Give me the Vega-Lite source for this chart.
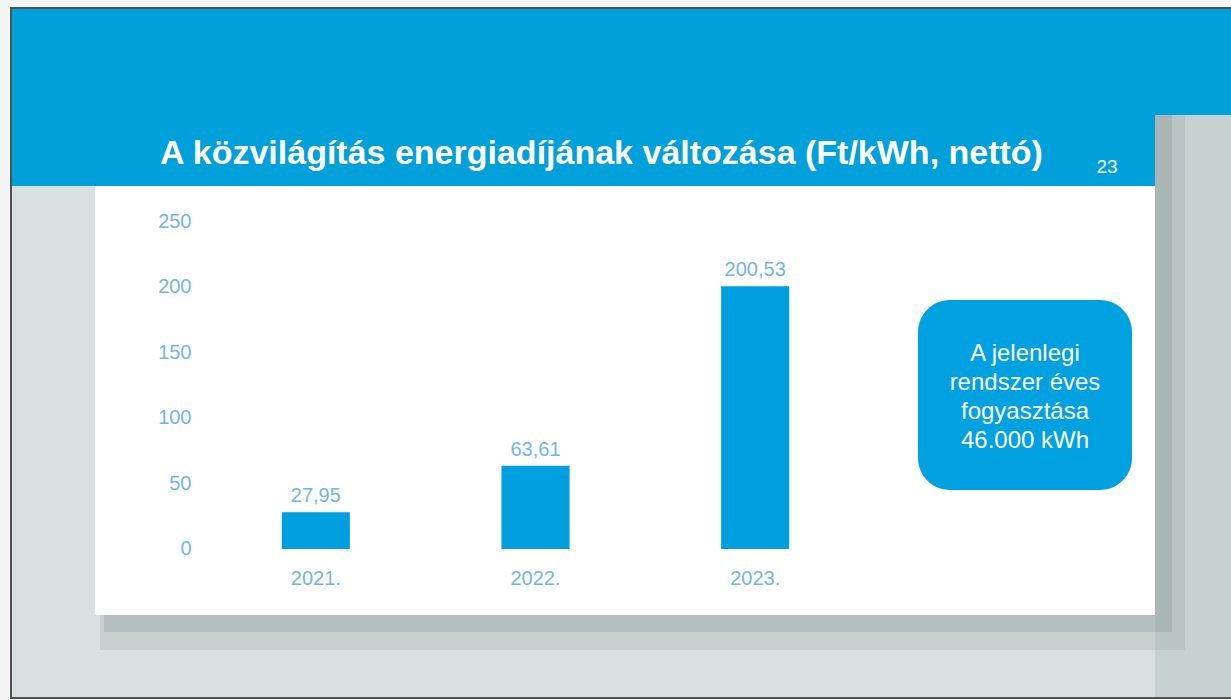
{
  "$schema": "https://vega.github.io/schema/vega-lite/v6.json",
  "width": 1231,
  "height": 700,
  "autosize": {"type": "none"},
  "padding": 0,
  "background": "#f3f5f5",
  "title": {
    "text": "A közvilágítás energiadíjának változása (Ft/kWh, nettó)",
    "anchor": "start",
    "frame": "group",
    "orient": "top",
    "offset": 0,
    "dx": 160,
    "dy": 198,
    "baseline": "alphabetic",
    "font": "Liberation Sans",
    "fontSize": 34,
    "fontWeight": "bold",
    "color": "#ffffff"
  },
  "config": {
    "view": {"stroke": null},
    "locale": {"number": {"decimal": ",", "thousands": ".", "grouping": [3], "currency": ["", " Ft"]}}
  },
  "layer": [
    {
      "data": {"values": [{"note": "A jelenlegi\nrendszer éves\nfogyasztása\n46.000 kWh", "page": "23"}]},
      "layer": [
        {
          "mark": {"type": "rect", "fill": "#d9e0e0", "stroke": "#4d5252", "strokeWidth": 2},
          "encoding": {
            "x": {"datum": 11, "type": "quantitative", "scale": {"domain": [0, 1231], "nice": false, "zero": false}, "axis": null},
            "x2": {"datum": 1240},
            "y": {"datum": 8, "type": "quantitative", "scale": {"domain": [0, 700], "reverse": true, "nice": false, "zero": false}, "axis": null},
            "y2": {"datum": 698}
          }
        },
        {
          "mark": {"type": "rect", "fill": "#c6d1d1"},
          "encoding": {
            "x": {"datum": 1155, "type": "quantitative", "axis": null},
            "x2": {"datum": 1231},
            "y": {"datum": 115, "type": "quantitative", "axis": null},
            "y2": {"datum": 697}
          }
        },
        {
          "mark": {"type": "rect", "fill": "#7f8c8c", "opacity": 0.18},
          "encoding": {
            "x": {"datum": 100, "type": "quantitative", "axis": null},
            "x2": {"datum": 1185},
            "y": {"datum": 612, "type": "quantitative", "axis": null},
            "y2": {"datum": 650}
          }
        },
        {
          "mark": {"type": "rect", "fill": "#7f8c8c", "opacity": 0.25},
          "encoding": {
            "x": {"datum": 104, "type": "quantitative", "axis": null},
            "x2": {"datum": 1172},
            "y": {"datum": 612, "type": "quantitative", "axis": null},
            "y2": {"datum": 632}
          }
        },
        {
          "mark": {"type": "rect", "fill": "#7f8c8c", "opacity": 0.18},
          "encoding": {
            "x": {"datum": 1150, "type": "quantitative", "axis": null},
            "x2": {"datum": 1185},
            "y": {"datum": 115, "type": "quantitative", "axis": null},
            "y2": {"datum": 612}
          }
        },
        {
          "mark": {"type": "rect", "fill": "#7f8c8c", "opacity": 0.25},
          "encoding": {
            "x": {"datum": 1150, "type": "quantitative", "axis": null},
            "x2": {"datum": 1172},
            "y": {"datum": 115, "type": "quantitative", "axis": null},
            "y2": {"datum": 612}
          }
        },
        {
          "mark": {"type": "rect", "fill": "#00a0db"},
          "encoding": {
            "x": {"datum": 12, "type": "quantitative", "axis": null},
            "x2": {"datum": 1231},
            "y": {"datum": 9, "type": "quantitative", "axis": null},
            "y2": {"datum": 115}
          }
        },
        {
          "mark": {"type": "rect", "fill": "#00a0db"},
          "encoding": {
            "x": {"datum": 12, "type": "quantitative", "axis": null},
            "x2": {"datum": 1155},
            "y": {"datum": 114, "type": "quantitative", "axis": null},
            "y2": {"datum": 186}
          }
        },
        {
          "mark": {"type": "rect", "fill": "#ffffff"},
          "encoding": {
            "x": {"datum": 95, "type": "quantitative", "axis": null},
            "x2": {"datum": 1155},
            "y": {"datum": 186, "type": "quantitative", "axis": null},
            "y2": {"datum": 615}
          }
        },
        {
          "mark": {"type": "rect", "fill": "#00a1e0", "cornerRadius": 32},
          "encoding": {
            "x": {"datum": 918, "type": "quantitative", "axis": null},
            "x2": {"datum": 1132},
            "y": {"datum": 300, "type": "quantitative", "axis": null},
            "y2": {"datum": 490}
          }
        },
        {
          "mark": {"type": "text", "align": "center", "baseline": "middle", "lineBreak": "\n", "lineHeight": 29, "font": "Liberation Sans", "fontSize": 24, "color": "#ffffff"},
          "encoding": {
            "x": {"datum": 1025, "type": "quantitative", "axis": null},
            "y": {"datum": 354, "type": "quantitative", "axis": null},
            "text": {"field": "note", "type": "nominal"}
          }
        },
        {
          "mark": {"type": "text", "align": "center", "baseline": "middle", "font": "Liberation Sans", "fontSize": 19, "color": "#ffffff"},
          "encoding": {
            "x": {"datum": 1107, "type": "quantitative", "axis": null},
            "y": {"datum": 167, "type": "quantitative", "axis": null},
            "text": {"field": "page", "type": "nominal"}
          }
        }
      ]
    },
    {
      "data": {"values": [
        {"year": "2021.", "price": 27.95},
        {"year": "2022.", "price": 63.61},
        {"year": "2023.", "price": 200.53}
      ]},
      "encoding": {
        "x": {
          "field": "year", "type": "nominal", "sort": null,
          "scale": {"domain": ["2021.", "2022.", "2023."], "range": [206, 865], "paddingInner": 0.69, "paddingOuter": 0.345},
          "axis": {"title": null, "orient": "bottom", "offset": -151, "zindex": 1, "domain": false, "ticks": false, "labelAngle": 0, "labelPadding": 19, "labelFont": "Liberation Sans", "labelFontSize": 20, "labelColor": "#74b6e3", "labelBaseline": "top"}
        },
        "y": {
          "field": "price", "type": "quantitative",
          "scale": {"domain": [-115.3, 419.1], "nice": false, "zero": false},
          "axis": {"title": null, "orient": "left", "offset": -196, "zindex": 1, "values": [0, 50, 100, 150, 200, 250], "domain": false, "ticks": false, "grid": false, "labelPadding": 5, "labelFont": "Liberation Sans", "labelFontSize": 20, "labelColor": "#74b6e3"}
        }
      },
      "layer": [
        {"mark": {"type": "bar", "color": "#00a0e0"}},
        {
          "mark": {"type": "text", "align": "center", "baseline": "alphabetic", "dy": -10, "font": "Liberation Sans", "fontSize": 20, "color": "#74b6e3"},
          "encoding": {"text": {"field": "price", "type": "quantitative", "format": ",.2f"}}
        }
      ]
    }
  ],
  "resolve": {"scale": {"x": "independent", "y": "independent"}}
}
